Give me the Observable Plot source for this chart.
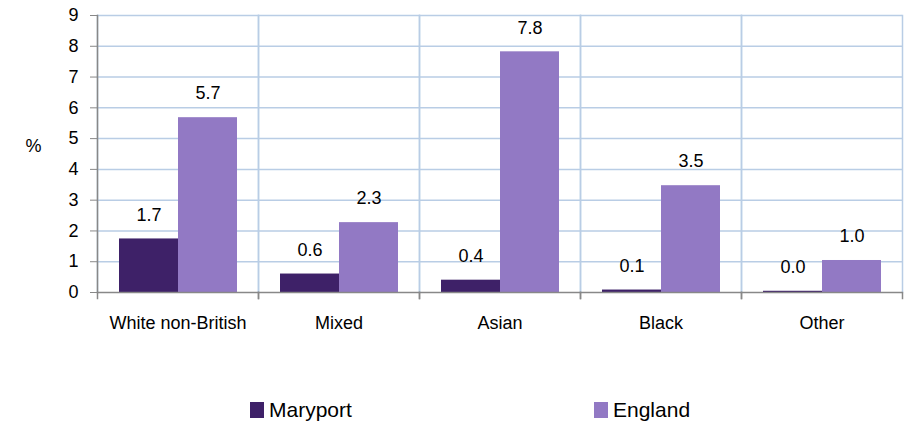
<!DOCTYPE html>
<html><head><meta charset="utf-8">
<script src="https://cdn.jsdelivr.net/npm/d3@7"></script>
<script src="https://cdn.jsdelivr.net/npm/@observablehq/plot@0.6"></script>
<style>
body{margin:0;background:#fff;font-family:"Liberation Sans",Arial,sans-serif;}
#legend{position:relative;height:46px;width:904px;}
.item{position:absolute;top:18px;height:24px;display:flex;align-items:center;font-size:21px;line-height:24px;color:#000;white-space:nowrap}
.sw{width:14px;height:16px;margin-right:5px}
</style></head><body>
<div id="chart"></div>
<div id="legend"></div>
<script>
const categories = ["White non-British","Mixed","Asian","Black","Other"];
const series = ["Maryport","England"];
const maryport = [1.74,0.6,0.4,0.08,0.04];
const england = [5.68,2.27,7.82,3.47,1.04];
const yTicks = [0,1,2,3,4,5,6,7,8,9];
const colors = ["#3e2168","#9279c4"];

const data = categories.flatMap((c,i)=>[
  {cat:c, s:series[0], v:maryport[i]},
  {cat:c, s:series[1], v:england[i]}
]);
const grid = "#b9cde5";
const axisGray = "#888888";
const font = "Liberation Sans, Arial, sans-serif";

const plot = Plot.plot({
  width:904, height:380, marginLeft:96, marginRight:1, marginTop:15, marginBottom:88,
  style:{fontFamily:font, fontSize:"18px", color:"#000", background:"#fff", overflow:"visible"},
  fx:{domain:categories, padding:0, label:null},
  x:{domain:series, paddingInner:0, paddingOuter:0.345, axis:null},
  y:{domain:[0,9], label:null},
  color:{domain:series, range:colors},
  marks:[
    Plot.ruleY(yTicks.slice(1), {stroke:grid, strokeWidth:1.5}),
    Plot.frame({anchor:"left", stroke:grid, strokeWidth:1.5}),
    Plot.frame({anchor:"right", stroke:grid, strokeWidth:1.5}),
    Plot.barY(data, {fx:"cat", x:"s", y:"v", fill:"s"}),
    Plot.text(data, {fx:"cat", x:"s", y:"v", text:d=>d.v.toFixed(1), dy:-24, fontSize:18, fill:"#000"}),
    Plot.ruleY([0], {stroke:axisGray, strokeWidth:1.5}),
    Plot.frame({anchor:"left", stroke:axisGray, strokeWidth:1.5, facet:"super"}),
    Plot.frame({anchor:"left", stroke:axisGray, strokeWidth:1.5, insetTop:277, insetBottom:-6}),
    Plot.frame({anchor:"right", stroke:axisGray, strokeWidth:1.5, insetTop:277, insetBottom:-6}),
    Plot.axisY({ticks:yTicks, tickSize:7, tickPadding:12, stroke:axisGray, fontSize:18, label:null, tickFormat:d3.format("d")}),
    Plot.axisFx({anchor:"bottom", tickSize:0, tickPadding:24, fontSize:18, label:null}),
    Plot.text(["%"], {text:d=>d, frameAnchor:"left", dx:-72, dy:-8, facet:"super", fontSize:18, fill:"#000"})
  ]
});
document.getElementById("chart").appendChild(plot);

const legendX = [250, 594];
const leg = document.getElementById("legend");
series.forEach((s,i)=>{
  const it = document.createElement("div");
  it.className = "item";
  it.style.left = legendX[i] + "px";
  const sw = document.createElement("span");
  sw.className = "sw";
  sw.style.background = colors[i];
  const t = document.createElement("span");
  t.textContent = s;
  it.appendChild(sw); it.appendChild(t);
  leg.appendChild(it);
});
</script>
</body></html>
